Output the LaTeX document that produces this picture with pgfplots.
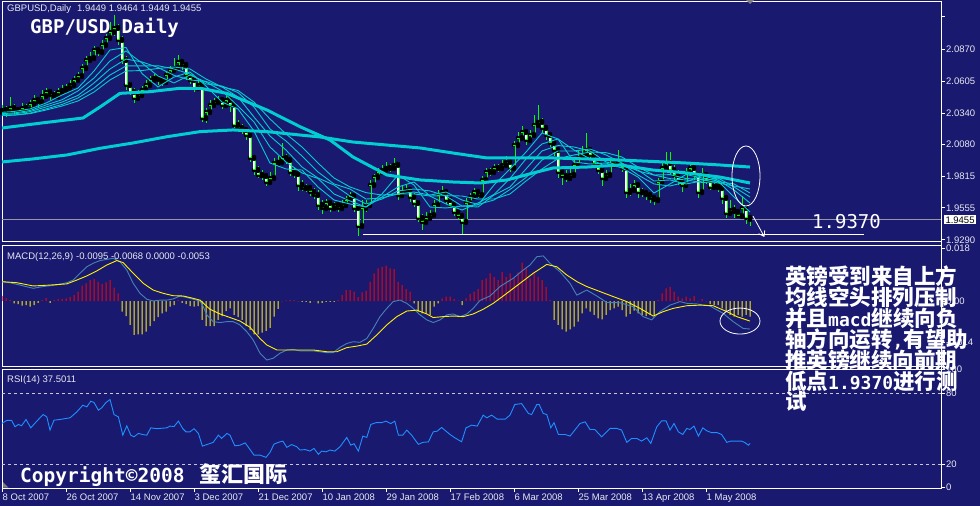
\documentclass[border=0pt]{standalone}
\usepackage{fontspec}
\setmainfont{Liberation Sans}
\newfontfamily\cjk{Noto Sans CJK SC}
\newfontfamily\mono{DejaVu Sans Mono}
\usepackage{pgfplots}
\usepackage{pgfplotstable}
\pgfplotsset{compat=1.18}
\usetikzlibrary{arrows.meta}
\definecolor{bg}{RGB}{25,25,112}
\definecolor{mat}{RGB}{0,206,209}
\definecolor{cgreen}{RGB}{0,255,0}
\definecolor{macdblue}{RGB}{70,130,180}
\definecolor{rsiblue}{RGB}{30,144,255}
\definecolor{lbl}{RGB}{232,232,240}
\definecolor{pgrey}{RGB}{150,150,165}
\definecolor{dashc}{RGB}{200,200,210}

% daily candles: bar index, open, high, low, close
\pgfplotstableread{
i o h l c
0 2.0348 2.0406 2.0315 2.0364
1 2.0364 2.0397 2.0306 2.0348
2 2.0348 2.0472 2.0331 2.0381
3 2.0381 2.0414 2.0331 2.0364
4 2.0364 2.0381 2.0339 2.0348
5 2.0348 2.0422 2.0323 2.0381
6 2.0381 2.0414 2.0339 2.0364
7 2.0364 2.0447 2.0348 2.0414
8 2.0414 2.0488 2.0397 2.0447
9 2.0447 2.0472 2.0381 2.0430
10 2.0430 2.0530 2.0414 2.0480
11 2.0480 2.0546 2.0455 2.0513
12 2.0513 2.0538 2.0447 2.0488
13 2.0488 2.0522 2.0464 2.0480
14 2.0480 2.0546 2.0464 2.0513
15 2.0513 2.0571 2.0497 2.0530
16 2.0530 2.0580 2.0505 2.0546
17 2.0546 2.0613 2.0530 2.0571
18 2.0571 2.0646 2.0555 2.0613
19 2.0613 2.0679 2.0588 2.0646
20 2.0646 2.0745 2.0629 2.0712
21 2.0712 2.0811 2.0695 2.0778
22 2.0778 2.0844 2.0753 2.0795
23 2.0795 2.0894 2.0778 2.0861
24 2.0861 2.0886 2.0811 2.0844
25 2.0844 2.0944 2.0828 2.0902
26 2.0902 2.0994 2.0878 2.0960
27 2.0960 2.1093 2.0944 2.1010
28 2.1010 2.1151 2.0977 2.1043
29 2.1043 2.1076 2.0902 2.0944
30 2.0944 2.0977 2.0745 2.0778
31 2.0778 2.0811 2.0530 2.0571
32 2.0571 2.0596 2.0488 2.0513
33 2.0513 2.0546 2.0422 2.0464
34 2.0464 2.0530 2.0447 2.0488
35 2.0488 2.0563 2.0472 2.0530
36 2.0530 2.0613 2.0513 2.0571
37 2.0571 2.0646 2.0546 2.0613
38 2.0613 2.0662 2.0596 2.0629
39 2.0629 2.0646 2.0571 2.0613
40 2.0613 2.0629 2.0563 2.0596
41 2.0596 2.0679 2.0580 2.0654
42 2.0654 2.0729 2.0637 2.0695
43 2.0695 2.0795 2.0671 2.0712
44 2.0712 2.0820 2.0695 2.0762
45 2.0762 2.0778 2.0695 2.0737
46 2.0737 2.0753 2.0613 2.0654
47 2.0654 2.0679 2.0580 2.0613
48 2.0613 2.0646 2.0513 2.0546
49 2.0546 2.0613 2.0530 2.0571
50 2.0571 2.0596 2.0265 2.0298
51 2.0298 2.0381 2.0257 2.0348
52 2.0348 2.0447 2.0331 2.0406
53 2.0406 2.0464 2.0389 2.0430
54 2.0430 2.0480 2.0414 2.0447
55 2.0447 2.0464 2.0373 2.0406
56 2.0406 2.0480 2.0389 2.0447
57 2.0447 2.0464 2.0348 2.0406
58 2.0406 2.0422 2.0215 2.0240
59 2.0240 2.0281 2.0182 2.0215
60 2.0215 2.0248 2.0166 2.0199
61 2.0199 2.0223 2.0116 2.0157
62 2.0157 2.0182 1.9934 1.9967
63 1.9967 1.9992 1.9826 1.9867
64 1.9867 1.9901 1.9801 1.9826
65 1.9826 1.9867 1.9785 1.9818
66 1.9818 1.9834 1.9735 1.9768
67 1.9768 1.9851 1.9752 1.9801
68 1.9801 1.9967 1.9785 1.9925
69 1.9925 1.9983 1.9901 1.9934
70 1.9934 2.0091 1.9917 1.9967
71 1.9967 2.0000 1.9917 1.9950
72 1.9950 1.9967 1.9818 1.9851
73 1.9851 1.9884 1.9801 1.9834
74 1.9834 1.9867 1.9694 1.9743
75 1.9743 1.9785 1.9694 1.9718
76 1.9718 1.9752 1.9685 1.9718
77 1.9718 1.9735 1.9652 1.9685
78 1.9685 1.9718 1.9627 1.9660
79 1.9660 1.9702 1.9536 1.9578
80 1.9578 1.9619 1.9503 1.9553
81 1.9553 1.9627 1.9536 1.9594
82 1.9594 1.9619 1.9520 1.9553
83 1.9553 1.9602 1.9536 1.9578
84 1.9578 1.9594 1.9520 1.9553
85 1.9553 1.9619 1.9536 1.9578
86 1.9578 1.9652 1.9561 1.9619
87 1.9619 1.9685 1.9602 1.9652
88 1.9652 1.9669 1.9520 1.9553
89 1.9553 1.9578 1.9321 1.9404
90 1.9404 1.9619 1.9387 1.9553
91 1.9553 1.9619 1.9520 1.9578
92 1.9578 1.9785 1.9561 1.9743
93 1.9743 1.9834 1.9718 1.9809
94 1.9809 1.9884 1.9785 1.9851
95 1.9851 1.9909 1.9834 1.9867
96 1.9867 1.9934 1.9851 1.9884
97 1.9884 1.9917 1.9851 1.9884
98 1.9884 1.9967 1.9867 1.9909
99 1.9909 1.9934 1.9619 1.9660
100 1.9660 1.9735 1.9636 1.9685
101 1.9685 1.9743 1.9669 1.9702
102 1.9702 1.9727 1.9602 1.9644
103 1.9644 1.9677 1.9561 1.9594
104 1.9594 1.9619 1.9437 1.9470
105 1.9470 1.9503 1.9371 1.9437
106 1.9437 1.9520 1.9412 1.9470
107 1.9470 1.9536 1.9453 1.9495
108 1.9495 1.9619 1.9470 1.9578
109 1.9578 1.9702 1.9561 1.9660
110 1.9660 1.9735 1.9644 1.9685
111 1.9685 1.9702 1.9586 1.9619
112 1.9619 1.9636 1.9553 1.9578
113 1.9578 1.9594 1.9487 1.9520
114 1.9520 1.9545 1.9453 1.9487
115 1.9487 1.9503 1.9338 1.9437
116 1.9437 1.9636 1.9420 1.9594
117 1.9594 1.9677 1.9569 1.9644
118 1.9644 1.9718 1.9627 1.9685
119 1.9685 1.9702 1.9636 1.9660
120 1.9660 1.9818 1.9644 1.9785
121 1.9785 1.9884 1.9760 1.9851
122 1.9851 1.9884 1.9818 1.9851
123 1.9851 1.9917 1.9834 1.9884
124 1.9884 1.9917 1.9851 1.9884
125 1.9884 1.9950 1.9867 1.9909
126 1.9909 1.9983 1.9892 1.9934
127 1.9934 1.9950 1.9851 1.9884
128 1.9884 2.0108 1.9867 2.0074
129 2.0074 2.0182 2.0050 2.0132
130 2.0132 2.0232 2.0116 2.0182
131 2.0182 2.0199 2.0074 2.0116
132 2.0116 2.0199 2.0099 2.0157
133 2.0157 2.0323 2.0141 2.0240
134 2.0240 2.0406 2.0215 2.0265
135 2.0265 2.0298 2.0174 2.0215
136 2.0215 2.0232 2.0116 2.0157
137 2.0157 2.0182 2.0058 2.0091
138 2.0091 2.0116 1.9983 2.0033
139 2.0033 2.0050 1.9801 1.9851
140 1.9851 1.9867 1.9743 1.9818
141 1.9818 1.9867 1.9768 1.9801
142 1.9801 1.9884 1.9785 1.9826
143 1.9826 1.9950 1.9809 1.9909
144 1.9909 2.0033 1.9892 1.9967
145 1.9967 2.0066 1.9950 1.9992
146 1.9992 2.0174 1.9975 2.0033
147 2.0033 2.0050 1.9950 1.9992
148 1.9992 2.0008 1.9884 1.9925
149 1.9925 1.9950 1.9834 1.9867
150 1.9867 1.9909 1.9735 1.9801
151 1.9801 1.9867 1.9785 1.9826
152 1.9826 1.9950 1.9809 1.9909
153 1.9909 1.9967 1.9892 1.9934
154 1.9934 2.0033 1.9909 1.9925
155 1.9925 1.9942 1.9851 1.9884
156 1.9884 1.9901 1.9636 1.9685
157 1.9685 1.9752 1.9652 1.9702
158 1.9702 1.9785 1.9685 1.9743
159 1.9743 1.9760 1.9636 1.9685
160 1.9685 1.9718 1.9644 1.9677
161 1.9677 1.9702 1.9619 1.9660
162 1.9660 1.9685 1.9594 1.9636
163 1.9636 1.9660 1.9578 1.9619
164 1.9619 1.9801 1.9602 1.9768
165 1.9768 1.9934 1.9752 1.9884
166 1.9884 2.0016 1.9867 1.9925
167 1.9925 2.0016 1.9826 1.9867
168 1.9867 1.9909 1.9785 1.9826
169 1.9826 1.9867 1.9743 1.9785
170 1.9785 1.9818 1.9685 1.9743
171 1.9743 1.9884 1.9718 1.9843
172 1.9843 1.9925 1.9826 1.9884
173 1.9884 1.9901 1.9785 1.9826
174 1.9826 1.9851 1.9636 1.9685
175 1.9685 1.9884 1.9669 1.9826
176 1.9826 1.9851 1.9752 1.9785
177 1.9785 1.9801 1.9702 1.9727
178 1.9727 1.9760 1.9710 1.9735
179 1.9735 1.9768 1.9685 1.9718
180 1.9718 1.9735 1.9586 1.9636
181 1.9636 1.9660 1.9470 1.9511
182 1.9511 1.9619 1.9495 1.9536
183 1.9536 1.9578 1.9470 1.9520
184 1.9520 1.9536 1.9470 1.9487
185 1.9487 1.9652 1.9470 1.9553
186 1.9553 1.9578 1.9420 1.9470
187 1.9470 1.9478 1.9404 1.9455
}\candles

% thin moving averages (read every 4 bars)
\pgfplotstableread{
i a b c d e
0 2.0345 2.0335 2.0328 2.0321 2.0318
3 2.0352 2.0339 2.0331 2.0323 2.0321
7 2.0373 2.0360 2.0351 2.0339 2.0334
11 2.0422 2.0406 2.0389 2.0373 2.0364
15 2.0488 2.0449 2.0430 2.0410 2.0397
19 2.0546 2.0522 2.0485 2.0464 2.0439
23 2.0687 2.0629 2.0588 2.0546 2.0513
27 2.0861 2.0770 2.0704 2.0654 2.0613
31 2.0882 2.0853 2.0786 2.0729 2.0687
35 2.0666 2.0753 2.0762 2.0729 2.0691
39 2.0555 2.0646 2.0717 2.0731 2.0708
43 2.0637 2.0588 2.0651 2.0704 2.0720
47 2.0679 2.0654 2.0613 2.0662 2.0704
51 2.0563 2.0596 2.0601 2.0580 2.0621
55 2.0430 2.0522 2.0555 2.0563 2.0555
59 2.0373 2.0397 2.0472 2.0509 2.0526
63 2.0190 2.0265 2.0306 2.0389 2.0430
67 1.9925 2.0058 2.0149 2.0207 2.0290
71 1.9876 1.9934 2.0033 2.0108 2.0166
75 1.9867 1.9843 1.9892 1.9983 2.0058
79 1.9727 1.9797 1.9801 1.9851 1.9925
83 1.9619 1.9669 1.9743 1.9752 1.9801
87 1.9586 1.9611 1.9652 1.9710 1.9727
91 1.9561 1.9561 1.9586 1.9627 1.9680
95 1.9669 1.9644 1.9627 1.9636 1.9660
99 1.9826 1.9727 1.9694 1.9669 1.9669
103 1.9743 1.9768 1.9710 1.9685 1.9669
107 1.9561 1.9652 1.9694 1.9660 1.9652
111 1.9553 1.9586 1.9652 1.9685 1.9655
115 1.9569 1.9536 1.9569 1.9619 1.9652
119 1.9578 1.9594 1.9561 1.9582 1.9627
123 1.9743 1.9665 1.9660 1.9619 1.9627
127 1.9876 1.9797 1.9727 1.9706 1.9669
131 2.0016 1.9959 1.9876 1.9805 1.9776
135 2.0174 2.0083 2.0025 1.9950 1.9876
139 2.0124 2.0124 2.0070 2.0025 1.9962
143 1.9934 2.0033 2.0058 2.0025 1.9992
147 1.9917 1.9959 2.0025 2.0041 2.0016
151 1.9925 1.9896 1.9934 1.9992 2.0011
155 1.9884 1.9921 1.9901 1.9925 1.9975
159 1.9809 1.9826 1.9867 1.9859 1.9892
163 1.9677 1.9752 1.9776 1.9826 1.9826
167 1.9752 1.9735 1.9785 1.9796 1.9829
171 1.9830 1.9768 1.9752 1.9785 1.9797
175 1.9801 1.9822 1.9776 1.9764 1.9789
179 1.9776 1.9785 1.9801 1.9771 1.9760
183 1.9644 1.9702 1.9727 1.9752 1.9735
187 1.9520 1.9594 1.9644 1.9677 1.9710
}\thinma

\pgfplotstableread{
i m
0 2.0215
10 2.0257
20.25 2.0298
24.5 2.0389
29.5 2.0502
37 2.0516
44.5 2.0544
49.5 2.0544
56.25 2.0502
66.25 2.0364
74.5 2.0226
82 2.0116
87.75 1.9975
96.25 1.9826
104.5 1.9785
112.75 1.9768
119.5 1.9760
126.25 1.9785
133.75 1.9851
137.75 1.9884
146.25 1.9892
154.5 1.9909
162.75 1.9867
171.25 1.9843
179.5 1.9809
187 1.9760
}\mamid

\pgfplotstableread{
i m
0 1.9934
7.75 1.9959
16.25 1.9992
24.5 2.0047
32.75 2.0091
41.25 2.0143
49.5 2.0185
57.75 2.0199
66.25 2.0185
74.5 2.0157
79.5 2.0141
87.75 2.0099
96.25 2.0074
104.5 2.0050
112.75 2.0008
121.25 1.9967
129.5 1.9967
137.75 1.9967
146.25 1.9959
154.5 1.9950
162.75 1.9938
171.25 1.9925
179.5 1.9909
187 1.9892
}\malong

\pgfplotstableread{
i h
0 0.0017
1 0.0009
2 0.0003
3 -0.0008
4 -0.0011
5 -0.0016
6 -0.0014
7 -0.0019
8 -0.0014
9 -0.0006
10 0.0003
11 0.0011
12 -0.0006
13 0.0003
14 0.0006
15 0.0006
16 0.0009
17 0.0013
18 0.0020
19 0.0032
20 0.0052
21 0.0060
22 0.0071
23 0.0075
24 0.0065
25 0.0057
26 0.0063
27 0.0071
28 0.0045
29 0.0026
30 -0.0036
31 -0.0051
32 -0.0081
33 -0.0115
34 -0.0113
35 -0.0113
36 -0.0104
37 -0.0085
38 -0.0068
39 -0.0055
40 -0.0042
41 -0.0036
42 -0.0019
43 -0.0014
44 0.0003
45 -0.0006
46 -0.0011
47 -0.0017
48 -0.0019
49 -0.0017
50 -0.0064
51 -0.0085
52 -0.0085
53 -0.0085
54 -0.0064
55 -0.0051
56 -0.0034
57 -0.0025
58 -0.0047
59 -0.0055
60 -0.0064
61 -0.0085
62 -0.0098
63 -0.0113
64 -0.0113
65 -0.0107
66 -0.0101
67 -0.0091
68 -0.0053
69 -0.0027
70 0
71 0.0002
72 0.0003
73 0.0003
74 0
75 -0.0003
76 -0.0003
77 -0.0006
78 0
79 -0.0008
80 -0.0006
81 -0.0003
82 -0.0003
83 -0.0003
84 0.0003
85 0.0020
86 0.0037
87 0.0037
88 0.0032
89 0.0013
90 0.0029
91 0.0035
92 0.0065
93 0.0094
94 0.0111
95 0.0116
96 0.0120
97 0.0111
98 0.0108
99 0.0065
100 0.0054
101 0.0040
102 0.0032
103 -0.0008
104 -0.0036
105 -0.0042
106 -0.0042
107 -0.0047
108 -0.0019
109 -0.0008
110 0.0009
111 0.0015
112 0.0015
113 0.0006
114 0.0001
115 -0.0014
116 0.0009
117 0.0024
118 0.0032
119 0.0040
120 0.0071
121 0.0077
122 0.0094
123 0.0082
124 0.0071
125 0.0099
126 0.0082
127 0.0094
128 0.0077
129 0.0097
130 0.0130
131 0.0111
132 0.0077
133 0.0094
134 0.0082
135 0.0071
136 0.0048
137 0.0003
138 -0.0064
139 -0.0081
140 -0.0096
141 -0.0104
142 -0.0096
143 -0.0087
144 -0.0070
145 -0.0042
146 -0.0025
147 -0.0036
148 -0.0047
149 -0.0059
150 -0.0062
151 -0.0047
152 -0.0031
153 -0.0025
154 -0.0019
155 -0.0031
156 -0.0053
157 -0.0044
158 -0.0033
159 -0.0042
160 -0.0047
161 -0.0051
162 -0.0047
163 -0.0047
164 0.0003
165 0.0026
166 0.0043
167 0.0048
168 0.0032
169 0.0015
170 0.0009
171 0.0015
172 0.0009
173 0.0017
174 0
175 0.0006
176 0
177 -0.0011
178 -0.0014
179 -0.0014
180 -0.0025
181 -0.0036
182 -0.0047
183 -0.0053
184 -0.0047
185 -0.0053
186 -0.0047
187 -0.0053
}\hist

\pgfplotstableread{
i v
-0.5 0.0066
2 0.0062
4.5 0.0054
7.8 0.0043
10.3 0.0049
13.3 0.0054
16.2 0.0062
17.8 0.0071
19.5 0.0094
21.2 0.0116
22.8 0.0128
24.5 0.0137
26.2 0.0141
27.8 0.0145
29.5 0.0133
31.2 0.0105
32.8 0.0060
34.5 0.0026
36.2 0.0006
37.8 0.0000
39.5 0.0003
41.2 0.0003
42.8 0.0007
44.5 0.0017
46.2 0.0012
47.8 0.0006
49.5 0.0000
50.3 -0.0019
51.2 -0.0047
52.8 -0.0070
54.5 -0.0073
56.2 -0.0070
57.8 -0.0070
59.5 -0.0081
61.2 -0.0104
62.8 -0.0132
64.5 -0.0177
66.2 -0.0200
67.8 -0.0194
69.5 -0.0177
71.2 -0.0166
72.8 -0.0164
74.5 -0.0169
77.8 -0.0169
79.5 -0.0172
81.2 -0.0175
82.8 -0.0175
84.5 -0.0157
86.2 -0.0144
87.8 -0.0138
89.5 -0.0140
91.2 -0.0127
92.8 -0.0093
94.5 -0.0053
96.2 -0.0025
97.8 -0.0002
99.5 0.0003
101.2 -0.0008
102.8 -0.0025
104.5 -0.0047
106.2 -0.0064
107.8 -0.0073
109.5 -0.0064
111.2 -0.0047
112.8 -0.0044
114.5 -0.0053
116.2 -0.0044
117.8 -0.0025
119.5 0.0002
122 0.0017
124.5 0.0049
127.8 0.0077
130.3 0.0105
132 0.0122
133.7 0.0150
135.3 0.0153
137 0.0128
139.5 0.0099
142 0.0060
143.7 0.0020
146.2 0.0037
148.7 0.0017
151.2 -0.0005
154.5 -0.0006
157.8 -0.0019
160.3 -0.0053
162.4 -0.0064
164.5 -0.0036
167 -0.0014
169.5 -0.0002
171.2 -0.0008
173.7 -0.0010
177 -0.0017
180.3 -0.0042
182.8 -0.0070
185.3 -0.0093
187 -0.0095
}\macdline

\pgfplotstableread{
i v
-0.5 0.0066
3.7 0.0062
7.8 0.0051
12 0.0054
16.2 0.0058
18.7 0.0071
21.2 0.0085
23.7 0.0102
26.2 0.0122
28.7 0.0137
30.3 0.0130
32.8 0.0094
35.3 0.0060
37.8 0.0037
40.3 0.0026
42.8 0.0018
45.3 0.0017
47.8 0.0009
49.5 0.0003
52 -0.0028
54.5 -0.0044
57 -0.0056
59.5 -0.0068
62 -0.0089
64.5 -0.0127
66.2 -0.0149
68.7 -0.0166
71.2 -0.0166
74.5 -0.0166
77.8 -0.0166
81.2 -0.0172
83.7 -0.0172
86.2 -0.0158
88.7 -0.0153
91.2 -0.0146
93.7 -0.0115
96.2 -0.0081
98.7 -0.0053
101.2 -0.0034
103.7 -0.0031
106.2 -0.0044
107.8 -0.0056
110.3 -0.0053
112.8 -0.0051
115.3 -0.0053
117.8 -0.0044
120.3 -0.0028
122.8 -0.0008
126.2 0.0026
129.5 0.0060
132.8 0.0094
136.2 0.0124
138.7 0.0116
141.2 0.0088
143.7 0.0066
146.2 0.0049
149.5 0.0032
152.8 0.0015
156.2 -0.0002
159.5 -0.0025
162.8 -0.0051
165.3 -0.0036
167.8 -0.0025
171.2 -0.0016
174.5 -0.0014
177.8 -0.0016
181.2 -0.0036
183.7 -0.0053
187 -0.0068
}\signal

\pgfplotstableread{
i r
-0.1 54.3
1.2 57
2.4 57
3.25 51.6
4.1 53.6
4.9 52.5
6 57.8
7.2 50.7
8.7 56.4
10.3 62
11.2 60
12 48.8
13 57.2
14.5 57.8
17 59.2
18.7 64.2
20.2 69.9
21.2 68.5
22.2 73.3
23 72.2
24.1 65.7
24.9 67.6
26 72.2
27 74.7
28 62
29.1 60
30.2 44.5
31.2 52.4
32.2 44.5
33 43.1
34.1 46
35.2 45
36.2 44.5
37.2 50.7
38.7 50
41.2 50.7
42 52.2
43 51.8
44.1 56.4
45.2 50
46 47.3
47 47.3
48 50
49.1 46
50.1 35.2
51.2 36.5
52.8 38.4
54.1 44.5
54.9 41.7
56.2 46
57 44.5
58.2 35.5
59.5 36
60.8 38
61.8 33.3
63 27.6
64.5 27.6
66 25.7
67 29.9
68 36.9
69.1 38.4
70.2 39.5
71.2 34.2
72.4 36.5
73.7 34.7
74.5 31.9
75.8 32.3
77 31
78 33.3
79.1 28.2
79.9 31
81 30.4
82 31.9
83.2 31
84.5 34.7
86.2 42.6
87.2 36
88 37.3
89.1 31
90.2 43.7
91.2 42.6
92.2 53.6
93.5 55.1
94.9 55.1
96 56.4
97.2 54.3
98.2 56.4
99.1 44.5
100.2 44.5
101.2 48.8
102.4 44.5
104.1 36.7
105.2 38.4
106.6 38.8
107.8 47.3
108.8 47.9
109.9 51
111 47.9
112 45.1
113.2 42.3
114.9 38.9
116 50.7
117.4 53
118.8 52.2
120.3 61.5
121.2 59.2
122.4 61.5
123.8 58.1
125.8 58.1
127 61.5
128.2 70.5
129.9 71.3
131.6 62.9
132.4 62
133.7 70.5
134.3 70.5
135.3 62.9
136.2 62
137.2 50.7
138 55.1
139.1 45.1
140.8 45.1
142 43.7
143.2 48.8
144.5 54.4
145.8 55.8
147 49.3
148.2 49.3
149.9 43.1
152 50.2
153.7 50.2
154.9 48.8
156.2 38.4
157.4 41.7
158.7 41.7
159.9 39.5
161.2 42.3
162.2 37.5
163.7 51.6
164.9 56.6
166 56.6
167 48.8
168 54.4
169.1 47.3
170.2 45.1
171.2 50.2
172 49.3
173 52.2
174.1 43.7
175.2 50.7
176.2 48.2
177.4 46.6
178.8 46.6
179.9 45.1
181.2 38.4
182.2 39.5
183.7 39.5
184.9 39.5
185.8 38
186.6 36
187 37.5
}\rsi

\pgfplotsset{mtpanel/.style={
  scale only axis, width=939pt, clip mode=individual,
  xmin=0, xmax=234.75,
  scaled y ticks=false, scaled x ticks=false,
  axis line style={white, line width=0.8pt},
  tick style={white, line width=0.8pt},
  tick align=outside, major tick length=4pt,
  ytick pos=right, yticklabel pos=right,
  yticklabel style={font=\fontsize{9.5}{11}\selectfont, text=lbl, inner sep=1pt},
  xtick=\empty,
}}

\begin{document}
\begin{tikzpicture}
\fill[bg] (0,0) rectangle (980pt,-506pt);

% ---------------- main price panel ----------------
\begin{axis}[mtpanel, at={(2pt,-1pt)}, anchor=north west, height=240pt,
  ymin=1.92795, ymax=2.12667,
  ytick={1.9290,1.9555,1.9815,2.0080,2.0340,2.0605,2.0870,2.1143},
  yticklabels={1.9290,1.9555,1.9815,2.0080,2.0340,2.0605,2.0870,{}}]
\addplot[pgrey, line width=0.8pt] coordinates {(0,1.9455) (234.75,1.9455)};
% wicks
\addplot[only marks, mark=none, error bars/.cd, y dir=both, y explicit, error mark=none,
  error bar style={draw=cgreen, line width=1pt, line cap=butt}]
  table[x=i, y=c, y error plus expr={\thisrow{h}-\thisrow{c}}, y error minus expr={\thisrow{c}-\thisrow{l}}]{\candles};
% bodies
\addplot[only marks, mark=none, error bars/.cd, y dir=both, y explicit, error mark=none,
  error bar style={draw=cgreen, line width=3pt, line cap=butt}]
  table[x=i, y=o, y error plus expr={max(\thisrow{c}-\thisrow{o},0.0004)}, y error minus expr={max(\thisrow{o}-\thisrow{c},0)}]{\candles};
% bear bodies filled white
\addplot[only marks, mark=none, error bars/.cd, y dir=both, y explicit, error mark=none,
  error bar style={draw=white, line width=1.1pt, line cap=butt}]
  table[x=i, y expr={\thisrow{o}-0.0008}, y error plus expr={0}, y error minus expr={max(\thisrow{o}-\thisrow{c}-0.0016,0)}]{\candles};
% bull bodies hollow
\addplot[only marks, mark=none, error bars/.cd, y dir=both, y explicit, error mark=none,
  error bar style={draw=bg, line width=1.1pt, line cap=butt}]
  table[x=i, y expr={\thisrow{o}+0.0008}, y error minus expr={0}, y error plus expr={max(\thisrow{c}-\thisrow{o}-0.0016,0)}]{\candles};
% moving averages
\addplot[mat, line width=0.9pt] table[x=i, y=a]{\thinma};
\addplot[mat, line width=0.9pt] table[x=i, y=b]{\thinma};
\addplot[mat, line width=0.9pt] table[x=i, y=c]{\thinma};
\addplot[mat, line width=0.9pt] table[x=i, y=d]{\thinma};
\addplot[mat, line width=0.9pt] table[x=i, y=e]{\thinma};
\addplot[mat, line width=3pt] table[x=i, y=m]{\mamid};
\addplot[mat, line width=3pt] table[x=i, y=m]{\malong};
% support line
\addplot[white, line width=1pt] coordinates {(90.25,1.9337) (215.5,1.9337)};
\draw[white, line width=0.8pt] (axis cs:186,1.9818) ellipse [x radius=14pt, y radius=30pt];
\draw[white, line width=0.8pt, -{Straight Barb[length=5pt,width=7pt]}] (axis cs:187.75,1.9486) -- (axis cs:190.6,1.9313);
\node[fill=white, text=black, inner sep=1.3pt, anchor=west, xshift=3pt, font=\fontsize{9.5}{11}\selectfont] at (axis cs:234.75,1.9455) {1.9455};
\end{axis}

% ---------------- MACD panel ----------------
\begin{axis}[mtpanel, at={(2pt,-245pt)}, anchor=north west, height=121.5pt,
  ymin=-0.022203, ymax=0.018983,
  ytick={-0.014,0,0.018}, yticklabels={-0.014,0.00,0.018}]
\addplot[ybar, bar width=1pt, fill=red, draw=none, restrict y to domain=0:1] table[x=i, y=h]{\hist};
\addplot[ybar, bar width=1pt, fill=yellow, draw=none, restrict y to domain=-1:0] table[x=i, y=h]{\hist};
\addplot[macdblue, line width=0.9pt] table[x=i, y=v]{\macdline};
\addplot[yellow, line width=0.9pt] table[x=i, y=v]{\signal};
\draw[white, line width=0.8pt] (axis cs:184.5,-0.0068) ellipse [x radius=20pt, y radius=13pt];
\end{axis}

% ---------------- RSI panel ----------------
\begin{axis}[mtpanel, at={(2pt,-369pt)}, anchor=north west, height=119pt,
  ymin=-0.3, ymax=100.6,
  ytick={0,20,80,100}, yticklabels={0,20,80,100},
  xtick={0,16,32,48,64,80,96,112,128,144,160,176},
  xticklabels={8 Oct 2007,26 Oct 2007,14 Nov 2007,3 Dec 2007,21 Dec 2007,10 Jan 2008,29 Jan 2008,17 Feb 2008,6 Mar 2008,25 Mar 2008,13 Apr 2008,1 May 2008},
  xtick pos=bottom,
  xticklabel style={anchor=north west, inner sep=0pt, xshift=0.5pt, yshift=-1.5pt, font=\fontsize{9.5}{11}\selectfont, text=lbl}]
\addplot[dashc, line width=0.8pt, dash pattern=on 3pt off 3pt] coordinates {(0,80) (234.75,80)};
\addplot[dashc, line width=0.8pt, dash pattern=on 3pt off 3pt] coordinates {(0,20) (234.75,20)};
\addplot[rsiblue, line width=0.9pt] table[x=i, y=r]{\rsi};
\end{axis}

\draw[white, line width=0.8pt] (941pt,-1pt) -- (941pt,-488pt);
\fill[gray] (746pt,0pt) -- (754pt,0pt) -- (750pt,-4pt) -- cycle;
\fill[gray] (3pt,-482pt) -- (3pt,-487.5pt) -- (8.5pt,-487.5pt) -- cycle;

% panel headers
\node[anchor=base west, inner sep=0, text=lbl, font=\fontsize{9.5}{11}\selectfont] at (7pt,-11.5pt) {GBPUSD,Daily};
\node[anchor=base west, inner sep=0, text=lbl, font=\fontsize{9.5}{11}\selectfont] at (77pt,-11.5pt) {1.9449 1.9464 1.9449 1.9455};
\node[anchor=base west, inner sep=0, text=lbl, font=\fontsize{9.5}{11}\selectfont] at (7pt,-259pt) {MACD(12,26,9)};
\node[anchor=base west, inner sep=0, text=lbl, font=\fontsize{9.5}{11}\selectfont] at (76pt,-259pt) {-0.0095 -0.0068 0.0000 -0.0053};
\node[anchor=base west, inner sep=0, text=lbl, font=\fontsize{9.5}{11}\selectfont] at (7pt,-382pt) {RSI(14) 37.5011};

% annotations
\node[anchor=base west, inner sep=0, text=white, font=\mono\bfseries\fontsize{19}{19}\selectfont] at (30pt,-33.5pt) {GBP/USD Daily};
\node[anchor=base west, inner sep=0, text=white, font=\mono\fontsize{19}{19}\selectfont] at (812pt,-228pt) {1.9370};
\node[anchor=base west, inner sep=0, text=white] at (20pt,-482.5pt) {{\mono\bfseries\fontsize{19.5}{20}\selectfont Copyright©2008}\hspace{15pt}{\cjk\bfseries\fontsize{22}{22}\selectfont 玺汇国际}};

\begin{scope}[every node/.style={anchor=base west, inner sep=0, text=white}]
\node at (785pt,-284.9pt) {\cjk\bfseries\fontsize{21.5}{21.5}\selectfont 英镑受到来自上方};
\node at (785pt,-305.7pt) {\cjk\bfseries\fontsize{21.5}{21.5}\selectfont 均线空头排列压制};
\node at (785pt,-326.5pt) {{\cjk\bfseries\fontsize{21.5}{21.5}\selectfont 并且}{\mono\bfseries\fontsize{18}{18}\selectfont macd}{\cjk\bfseries\fontsize{21.5}{21.5}\selectfont 继续向负}};
\node at (785pt,-347.4pt) {{\cjk\bfseries\fontsize{21.5}{21.5}\selectfont 轴方向运转}{\mono\bfseries\fontsize{18}{18}\selectfont ,}{\cjk\bfseries\fontsize{21.5}{21.5}\selectfont 有望助}};
\node at (785pt,-368.2pt) {\cjk\bfseries\fontsize{21.5}{21.5}\selectfont 推英镑继续向前期};
\node at (785pt,-389pt) {{\cjk\bfseries\fontsize{21.5}{21.5}\selectfont 低点}{\mono\bfseries\fontsize{18}{18}\selectfont 1.9370}{\cjk\bfseries\fontsize{21.5}{21.5}\selectfont 进行测}};
\node at (785pt,-409.9pt) {\cjk\bfseries\fontsize{21.5}{21.5}\selectfont 试};
\end{scope}

\pgfresetboundingbox
\path[use as bounding box] (0,0) rectangle (980pt,-506pt);
\end{tikzpicture}
\end{document}
